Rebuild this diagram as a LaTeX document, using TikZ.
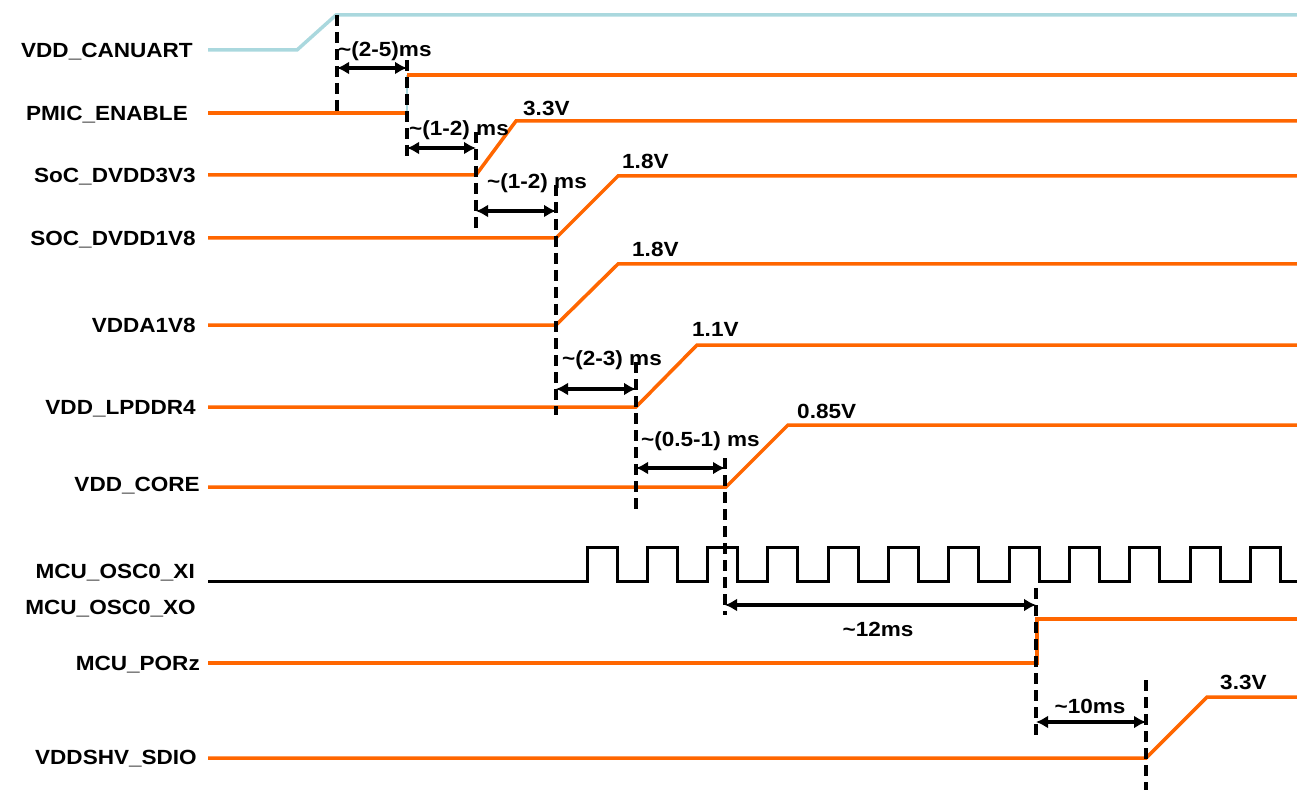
\documentclass[tikz,border=0pt]{standalone}
\usepackage{fontspec}
\setmainfont{Liberation Sans}[FakeStretch=1.1]
\usetikzlibrary{arrows.meta}
\definecolor{sigorange}{RGB}{255,102,0}
\definecolor{sigblue}{RGB}{170,216,222}
\begin{document}
\begin{tikzpicture}[x=1pt,y=-1pt,
  txt/.style={font=\fontsize{20.5}{24}\selectfont\bfseries, inner sep=0pt, text height=14.7pt, text depth=0pt},
  lbl/.style={txt, anchor=east},
  note/.style={txt, anchor=west},
  cnote/.style={txt, anchor=center},
  sig/.style={draw=sigorange, line width=3.5pt, line join=miter},
  bsig/.style={draw=sigblue, line width=3.5pt},
  clk/.style={draw=black, line width=3pt},
  guide/.style={draw=black, line width=3.5pt, dash pattern=on 11pt off 6pt},
  span/.style={draw=black, line width=3.5pt, {Latex[length=12pt,width=13pt]}-{Latex[length=12pt,width=13pt]}}
]
\useasboundingbox (0,0) rectangle (1297,791);

% labels
\node[lbl] (lCAN) at (193,50) {VDD\_CANUART};
\node[lbl] (lPMIC) at (188,113) {PMIC\_ENABLE};
\node[lbl] (l3v3) at (196,175) {SoC\_DVDD3V3};
\node[lbl] (l1v8) at (196,238) {SOC\_DVDD1V8};
\node[lbl] (lA1v8) at (196,325) {VDDA1V8};
\node[lbl] (lLP) at (196,407) {VDD\_LPDDR4};
\node[lbl] (lCORE) at (200,484) {VDD\_CORE};
\node[lbl] (lXI) at (195,571) {MCU\_OSC0\_XI};
\node[lbl] (lXO) at (196,607) {MCU\_OSC0\_XO};
\node[lbl] (lPOR) at (200,663) {MCU\_PORz};
\node[lbl] (lSDIO) at (197,757) {VDDSHV\_SDIO};

% signal coordinates
\coordinate (c0) at (208,50);   \coordinate (c1) at (297,50);  \coordinate (c2) at (336,15);  \coordinate (c3) at (1297,15);
\coordinate (p0) at (208,113);  \coordinate (p1) at (407,113); \coordinate (p2) at (407,75);  \coordinate (p3) at (1297,75);
\coordinate (a0) at (208,175);  \coordinate (a1) at (476,175); \coordinate (a2) at (516,121); \coordinate (a3) at (1297,121);
\coordinate (b0) at (208,238);  \coordinate (b1) at (556,238); \coordinate (b2) at (618,176); \coordinate (b3) at (1297,176);
\coordinate (d0) at (208,325);  \coordinate (d1) at (556,325); \coordinate (d2) at (618,264); \coordinate (d3) at (1297,264);
\coordinate (e0) at (208,407);  \coordinate (e1) at (636,407); \coordinate (e2) at (697,345); \coordinate (e3) at (1297,345);
\coordinate (f0) at (208,487);  \coordinate (f1) at (726,487); \coordinate (f2) at (788,425); \coordinate (f3) at (1297,425);
\coordinate (g0) at (208,581);  \coordinate (g1) at (587,581); \coordinate (g3) at (1297,581);
\coordinate (h0) at (208,663);  \coordinate (h1) at (1037,663); \coordinate (h2) at (1037,619); \coordinate (h3) at (1297,619);
\coordinate (k0) at (208,758);  \coordinate (k1) at (1146,758); \coordinate (k2) at (1207,697); \coordinate (k3) at (1297,697);

% signals
\draw[bsig] (c0) -- (c1) -- (c2) -- (c3);
\draw[sig] (p0) -- (p1);
\draw[draw=sigblue, line width=2pt] (p1) -- (p2);
\draw[sig] (p2) -- (p3);
\draw[sig] (a0) -- (a1) -- (a2) -- (a3);
\draw[sig] (b0) -- (b1) -- (b2) -- (b3);
\draw[sig] (d0) -- (d1) -- (d2) -- (d3);
\draw[sig] (e0) -- (e1) -- (e2) -- (e3);
\draw[sig] (f0) -- (f1) -- (f2) -- (f3);
\draw[clk] (g0) -- (g1) \foreach \k in {0,...,11}{ -- ({587+60.3*\k},581) -- ++(0,-34) -- ++(30,0) -- ++(0,34) } -- (g3);
\draw[sig] (h0) -- (h1) -- (h2) -- (h3);
\draw[sig] (k0) -- (k1) -- (k2) -- (k3);

% guide lines
\coordinate (t1) at (337,15);   \coordinate (u1) at (337,115);
\coordinate (t2) at (407,60);   \coordinate (u2) at (407,157);
\coordinate (t3) at (476,132);  \coordinate (u3) at (476,230);
\coordinate (t4) at (556,185);  \coordinate (u4) at (556,415);
\coordinate (t5) at (636,362);  \coordinate (u5) at (636,515);
\coordinate (t6) at (725,458);  \coordinate (u6) at (725,615);
\coordinate (t7) at (1036,588); \coordinate (u7) at (1036,737);
\coordinate (t8) at (1146,680); \coordinate (u8) at (1146,790);
\foreach \i in {1,...,8}{ \draw[guide] (t\i) -- (u\i); }

% spans
\coordinate (s1a) at (337,68);  \coordinate (s1b) at (407,68);
\coordinate (s2a) at (407,148); \coordinate (s2b) at (476,148);
\coordinate (s3a) at (476,211); \coordinate (s3b) at (556,211);
\coordinate (s4a) at (556,389); \coordinate (s4b) at (636,389);
\coordinate (s5a) at (636,468); \coordinate (s5b) at (725,468);
\coordinate (s6a) at (725,605); \coordinate (s6b) at (1036,605);
\coordinate (s7a) at (1036,722);\coordinate (s7b) at (1146,722);
\foreach \i in {1,...,7}{ \draw[span] (s\i a) -- (s\i b); }

% timing notes
\node[note] (n1) at (338,49) {\textasciitilde(2-5)ms};
\node[note] (n2) at (409,128) {\textasciitilde(1-2) ms};
\node[note] (n3) at (487,181) {\textasciitilde(1-2) ms};
\node[note] (n4) at (562,358) {\textasciitilde(2-3) ms};
\node[note] (n5) at (641,439) {\textasciitilde(0.5-1) ms};
\node[cnote] (n6) at (878,629) {\textasciitilde12ms};
\node[cnote] (n7) at (1090,706) {\textasciitilde10ms};

% voltage notes
\node[note] (v1) at (523,108) {3.3V};
\node[note] (v2) at (622,161) {1.8V};
\node[note] (v3) at (632,249) {1.8V};
\node[note] (v4) at (692,329) {1.1V};
\node[note] (v5) at (797,411) {0.85V};
\node[note] (v6) at (1220,682) {3.3V};
\end{tikzpicture}
\end{document}
